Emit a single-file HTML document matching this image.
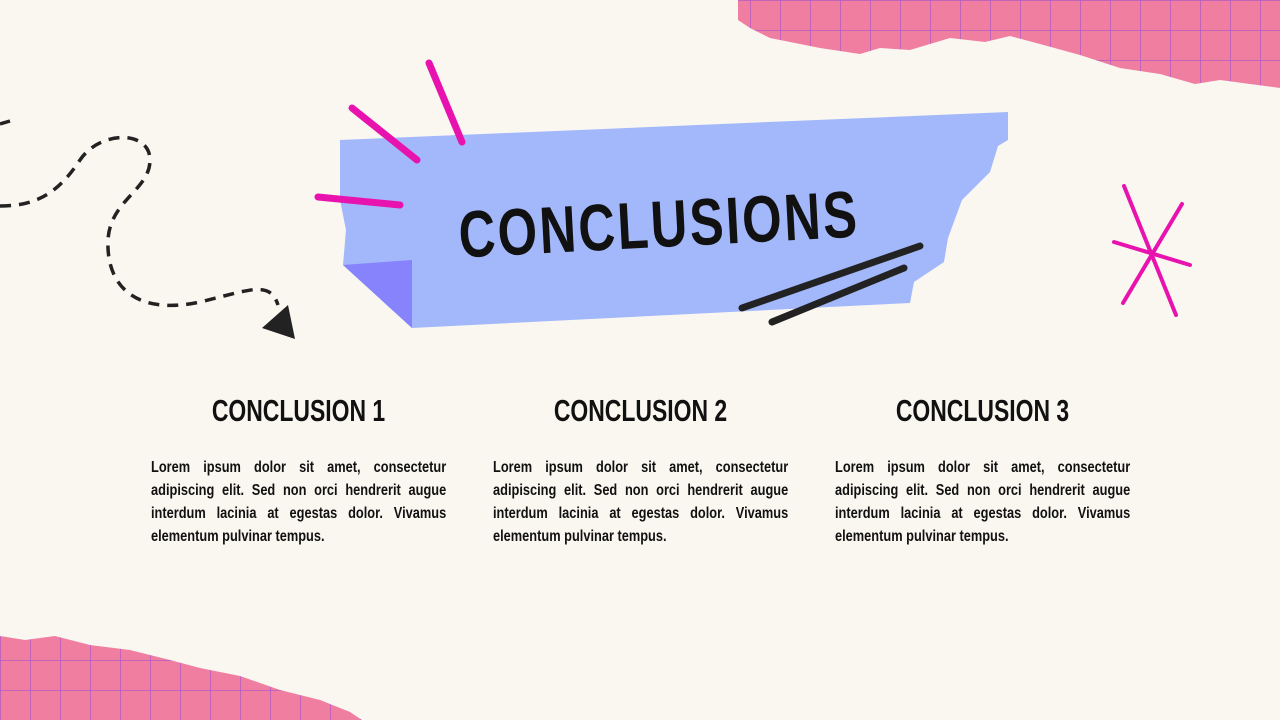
<!DOCTYPE html>
<html><head><meta charset="utf-8">
<style>
html,body{margin:0;padding:0}
body{width:1280px;height:720px;position:relative;overflow:hidden;background:#faf7f0;font-family:"Liberation Sans",sans-serif}
.col{position:absolute;top:393px;width:295px}
.col h2{margin:0;text-align:center;font-size:31px;font-weight:bold;color:#111;transform:scaleX(0.74);transform-origin:center;white-space:nowrap;width:295px;height:36px;line-height:36px}
.txt{position:absolute;top:63px;left:0;width:369px;transform:scaleX(0.8);transform-origin:left top}
.l{font-size:16px;line-height:23px;height:23px;font-weight:bold;color:#111;text-align:justify;text-align-last:justify;white-space:nowrap}
.l.last{text-align-last:left}
</style></head>
<body>
<svg width="1280" height="720" style="position:absolute;left:0;top:0">
<defs>
<pattern id="grid" width="30" height="30" patternUnits="userSpaceOnUse">
<rect width="30" height="30" fill="#f07ea0"/>
<path d="M0 0H30M0 0V30" stroke="#b45cc4" stroke-width="1.5"/>
</pattern>
</defs>
<polygon fill="url(#grid)" points="738,0 1280,0 1280,88 1250,84 1220,80 1195,84 1160,74 1120,68 1080,55 1040,44 1010,36 985,42 950,38 910,50 880,48 860,54 820,48 790,42 770,38 750,28 738,20"/>
<polygon fill="url(#grid)" points="0,636 25,640 55,636 90,645 130,650 170,660 200,668 240,676 280,690 320,700 350,712 362,720 0,720"/>
<polygon fill="#a3b8fb" points="340,140 1008,112 1008,140 998,146 990,172 962,200 948,238 944,262 914,282 910,303 412,328 343,265 346,230 340,200"/>
<polygon fill="#8683fc" points="343,265 412,260 412,328"/>
<g stroke="#e813ae" stroke-linecap="round" fill="none">
<path d="M429 63 L462 142" stroke-width="7"/>
<path d="M352 108 L417 160" stroke-width="7"/>
<path d="M318 197 L400 205" stroke-width="7"/>
<path d="M1124 186 L1176 315" stroke-width="4"/>
<path d="M1182 204 L1123 303" stroke-width="4"/>
<path d="M1114 242 L1190 265" stroke-width="4"/>
</g>
<text x="0" y="0" text-anchor="middle" transform="translate(660 247) rotate(-3) scale(0.77 1)" font-family="Liberation Sans, sans-serif" font-weight="bold" font-size="66" letter-spacing="3" fill="#111">CONCLUSIONS</text>
<g stroke="#222" stroke-width="7" stroke-linecap="round">
<path d="M742 308 L920 246"/>
<path d="M772 322 L904 268"/>
</g>
<path d="M0 206 C40 206 60 190 80 160 C100 130 150 130 150 160 C150 190 110 200 108 240 C106 290 140 315 200 302 C250 290 270 280 278 305" fill="none" stroke="#222" stroke-width="3.5" stroke-dasharray="11 8"/>
<path d="M0 124 L10 121" stroke="#222" stroke-width="3.5"/>
<polygon fill="#222" points="262,328 295,339 288,305"/>
</svg>
<div class="col" style="left:151px">
<h2>CONCLUSION 1</h2>
<div class="txt">
<div class="l">Lorem ipsum dolor sit amet, consectetur</div>
<div class="l">adipiscing elit. Sed non orci hendrerit augue</div>
<div class="l">interdum lacinia at egestas dolor. Vivamus</div>
<div class="l last">elementum pulvinar tempus.</div>
</div>
</div>
<div class="col" style="left:493px">
<h2>CONCLUSION 2</h2>
<div class="txt">
<div class="l">Lorem ipsum dolor sit amet, consectetur</div>
<div class="l">adipiscing elit. Sed non orci hendrerit augue</div>
<div class="l">interdum lacinia at egestas dolor. Vivamus</div>
<div class="l last">elementum pulvinar tempus.</div>
</div>
</div>
<div class="col" style="left:835px">
<h2>CONCLUSION 3</h2>
<div class="txt">
<div class="l">Lorem ipsum dolor sit amet, consectetur</div>
<div class="l">adipiscing elit. Sed non orci hendrerit augue</div>
<div class="l">interdum lacinia at egestas dolor. Vivamus</div>
<div class="l last">elementum pulvinar tempus.</div>
</div>
</div>
</body></html>
